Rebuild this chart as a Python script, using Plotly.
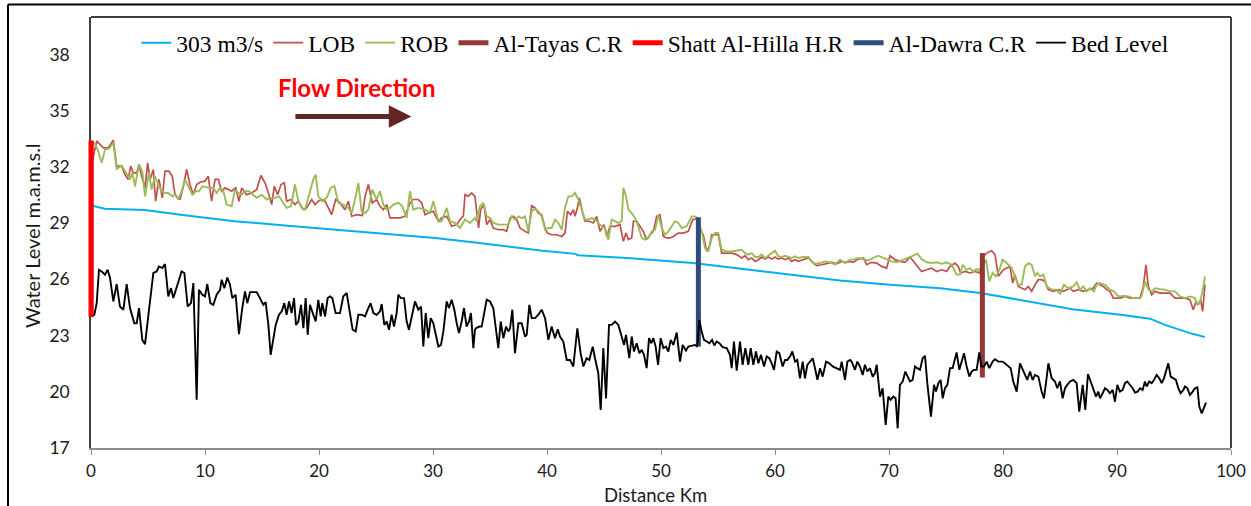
import plotly.graph_objects as go

# ---------------- data (distance km, level m.a.m.s.l) ----------------
FLOW_303 = [(0.00, 30.15), (0.20, 29.92), (1.20, 29.77), (4.70, 29.70), (8.20, 29.42), (12.60, 29.10),
            (17.00, 28.88), (21.40, 28.65), (25.80, 28.42), (30.20, 28.20), (33.70, 27.97), (35.30, 27.85),
            (39.60, 27.53), (42.50, 27.36), (42.70, 27.28), (47.00, 27.14), (52.80, 26.87), (57.20, 26.55),
            (61.60, 26.25), (65.70, 25.94), (70.10, 25.71), (74.50, 25.53), (78.00, 25.27), (81.80, 24.86),
            (86.10, 24.41), (90.50, 24.10), (92.90, 23.90), (94.20, 23.57), (96.40, 23.13), (97.70, 22.92)]

LOB = [(0.00, 32.00), (0.50, 33.38), (0.79, 33.20), (1.08, 33.02), (1.52, 33.02), (1.96, 33.43), (2.25, 32.04),
       (2.69, 32.04), (2.98, 31.59), (3.27, 31.33), (3.48, 32.04), (3.71, 31.68), (4.01, 31.68), (4.21, 32.13),
       (4.44, 31.50), (4.74, 30.88), (4.97, 32.22), (5.18, 31.33), (5.47, 31.86), (5.67, 30.17), (5.96, 31.33),
       (6.26, 30.35), (6.49, 31.77), (6.84, 31.77), (7.13, 31.50), (7.37, 30.52), (7.81, 30.26), (8.10, 30.97),
       (8.39, 31.86), (8.68, 31.06), (8.98, 30.52), (9.27, 31.06), (9.56, 31.18), (10.00, 31.24), (10.29, 31.50),
       (10.58, 30.17), (10.88, 31.33), (11.17, 31.33), (11.46, 30.70), (11.75, 30.88), (12.05, 30.79),
       (12.34, 30.70), (12.69, 30.88), (12.98, 30.17), (13.22, 30.88), (13.65, 30.52), (14.09, 30.61),
       (14.53, 30.79), (14.91, 31.54), (15.26, 31.15), (15.56, 30.61), (15.85, 29.99), (16.08, 30.97),
       (16.37, 30.52), (16.67, 31.06), (16.96, 31.15), (17.16, 30.17), (17.54, 30.26), (17.89, 29.99),
       (18.19, 30.17), (18.63, 29.72), (18.92, 29.81), (19.36, 30.26), (19.65, 29.99), (19.94, 30.17),
       (20.23, 30.26), (20.53, 30.17), (21.11, 29.45), (21.46, 30.26), (21.84, 30.08), (22.28, 29.72),
       (22.57, 30.17), (22.87, 29.37), (23.30, 29.45), (23.80, 29.40), (24.04, 30.43), (24.33, 31.06),
       (24.68, 30.08), (25.06, 30.26), (25.35, 29.90), (25.64, 29.72), (25.94, 29.99), (26.23, 29.28),
       (26.67, 29.28), (27.11, 29.28), (27.54, 29.37), (27.98, 30.08), (28.27, 30.26), (28.71, 30.26),
       (29.01, 30.08), (29.30, 29.45), (29.59, 29.54), (30.03, 29.63), (30.47, 29.10), (30.76, 29.28),
       (31.20, 29.37), (31.64, 28.83), (32.08, 28.92), (32.37, 29.19), (32.66, 29.37), (32.81, 30.52),
       (33.10, 30.43), (33.39, 30.61), (33.68, 30.43),
       (34.00, 28.74), (34.18, 29.72), (34.48, 29.99), (34.71, 28.92), (35.00, 29.19), (35.29, 28.74),
       (35.73, 28.65), (36.17, 28.65), (36.46, 28.56), (36.76, 29.27), (37.05, 29.36), (37.34, 29.19),
       (37.63, 28.74), (38.07, 28.56), (38.36, 28.47), (38.66, 29.93), (38.95, 29.81), (39.24, 29.54),
       (39.53, 29.45), (39.83, 28.74), (40.03, 28.47), (40.41, 28.38), (40.85, 28.38), (41.29, 28.29),
       (41.58, 28.47), (41.79, 29.63), (42.08, 29.45), (42.31, 29.72), (42.46, 29.36), (42.66, 29.81),
       (42.84, 30.34), (43.13, 29.54), (43.33, 29.10), (43.72, 29.10), (44.07, 29.01), (44.36, 29.36),
       (44.65, 28.56), (45.00, 28.92), (45.24, 28.29), (45.53, 28.83), (45.97, 28.83), (46.40, 28.92),
       (46.70, 28.03), (46.93, 28.47), (47.14, 28.12), (47.43, 28.21), (47.58, 29.10), (47.87, 29.10),
       (48.16, 28.83), (48.45, 28.56), (48.74, 28.12), (49.04, 28.38), (49.33, 28.56), (49.62, 29.36),
       (49.91, 29.45), (50.21, 28.29), (50.50, 28.21), (50.79, 28.21), (51.08, 28.29), (51.52, 28.47),
       (51.96, 28.47), (52.40, 28.56), (52.78, 29.19), (53.13, 29.22), (53.42, 28.65), (53.71, 28.38),
       (54.01, 27.49), (54.24, 27.76), (54.45, 28.38), (54.74, 28.38), (55.03, 28.38), (55.32, 27.40),
       (55.76, 27.40), (56.20, 27.40), (56.64, 27.32), (57.08, 27.14), (57.37, 27.26), (57.66, 27.05),
       (57.96, 27.14), (58.25, 26.96), (58.54, 27.05), (58.83, 27.19), (59.13, 27.08), (59.42, 27.19),
       (59.71, 27.08), (60.00, 27.19), (60.29, 27.08), (60.59, 27.14), (60.88, 27.05), (61.17, 27.14),
       (61.46, 26.96), (61.76, 27.05), (62.05, 26.96), (62.49, 27.05), (62.93, 27.14), (63.36, 26.87),
       (63.66, 26.73), (64.10, 26.78), (64.53, 26.83), (64.97, 26.90), (65.41, 26.83), (65.85, 26.96),
       (66.29, 26.90), (66.58, 26.96),
       (66.87, 26.91), (67.31, 27.08), (67.75, 27.14), (68.04, 26.78), (68.48, 26.91), (68.92, 26.87),
       (69.35, 26.69), (69.79, 26.60), (70.09, 27.26), (70.52, 27.05), (70.96, 26.96), (71.40, 26.91),
       (71.84, 27.19), (72.13, 26.96), (72.48, 26.69), (72.86, 26.42), (73.30, 26.51), (73.74, 26.60),
       (74.18, 26.42), (74.62, 26.51), (75.06, 26.42), (75.35, 26.69), (75.79, 26.87), (76.08, 26.69),
       (76.28, 26.34), (76.67, 26.42), (77.10, 26.34), (77.54, 26.42), (77.92, 26.34), (78.27, 27.23),
       (78.57, 27.40), (79.00, 27.53), (79.30, 27.32), (79.59, 26.16), (80.03, 26.51), (80.32, 26.60),
       (80.61, 26.69), (80.85, 25.80), (81.05, 26.25), (81.34, 25.62), (81.64, 25.53), (81.93, 25.45),
       (82.22, 25.62), (82.51, 25.36), (82.81, 25.71), (83.10, 25.98), (83.39, 25.98), (83.68, 25.89),
       (83.97, 25.45), (84.41, 25.36), (84.85, 25.45), (85.29, 25.36), (85.58, 25.45), (85.88, 25.53),
       (86.17, 25.36), (86.61, 25.45), (87.05, 25.36), (87.48, 25.45), (87.92, 25.53), (88.21, 25.80),
       (88.51, 25.71), (88.80, 25.62), (89.09, 25.45), (89.38, 25.36), (89.68, 25.00), (90.26, 25.00),
       (90.70, 25.09), (91.14, 25.00), (91.58, 25.00), (92.02, 25.00), (92.31, 25.62), (92.54, 26.78),
       (92.75, 25.62), (93.04, 25.18), (93.33, 25.36), (93.77, 25.27), (94.21, 25.27), (94.65, 25.27),
       (95.09, 25.00), (95.52, 25.00), (95.96, 25.00), (96.40, 24.91), (96.69, 24.38), (96.93, 24.82),
       (97.13, 24.64), (97.34, 24.91), (97.51, 24.29), (97.72, 25.71)]

ROB = [(0.00, 33.38), (0.35, 33.20), (0.58, 32.93), (0.94, 32.22), (1.23, 32.93), (1.58, 32.97), (1.96, 33.29),
       (2.25, 31.90), (2.69, 32.07), (2.98, 31.77), (3.42, 31.33), (3.63, 31.68), (3.86, 30.97), (4.21, 32.13),
       (4.50, 31.77), (4.74, 30.43), (5.09, 31.68), (5.32, 30.79), (5.61, 31.50), (5.91, 31.06), (6.20, 30.70),
       (6.49, 30.61), (6.78, 30.61), (7.13, 30.43), (7.37, 30.52), (7.66, 30.26), (8.01, 30.79), (8.25, 31.33),
       (8.54, 30.97), (8.89, 30.52), (9.18, 30.70), (9.47, 30.70), (9.77, 30.97), (10.06, 30.93), (10.44, 30.88),
       (10.73, 30.88), (11.02, 30.61), (11.32, 30.88), (11.61, 30.70), (11.90, 29.99), (12.34, 29.90),
       (12.63, 30.79), (12.92, 30.61), (13.22, 30.52), (13.51, 30.70), (13.86, 30.70), (14.24, 30.52),
       (14.53, 30.35), (14.97, 30.52), (15.41, 30.26), (15.70, 30.35), (16.14, 30.35), (16.49, 30.43),
       (16.87, 30.08), (17.16, 29.81), (17.54, 29.90), (17.89, 31.06), (18.19, 30.17), (18.48, 29.81),
       (18.77, 29.72), (19.12, 30.43), (19.50, 31.33), (19.71, 31.59), (19.94, 30.43), (20.29, 30.17),
       (20.67, 30.35), (21.02, 30.88), (21.35, 30.97), (21.70, 30.08), (22.13, 29.99), (22.57, 29.81),
       (22.87, 29.54), (23.22, 30.43), (23.45, 31.15), (23.74, 29.63), (24.04, 29.54), (24.33, 29.72),
       (24.68, 30.79), (25.06, 30.26), (25.35, 30.70), (25.64, 29.99), (25.94, 29.72), (26.23, 29.81),
       (26.52, 29.99), (26.96, 30.08), (27.31, 29.90), (27.69, 29.28), (27.98, 30.70), (28.27, 29.72),
       (28.71, 29.81), (29.30, 29.72), (29.74, 29.54), (30.03, 30.17), (30.47, 29.10), (30.76, 29.10),
       (31.20, 29.81), (31.49, 29.10), (31.93, 29.01), (32.37, 28.74), (32.81, 29.19), (33.25, 29.01),
       (33.68, 29.28),
       (33.83, 29.10), (34.12, 29.90), (34.42, 30.08), (34.71, 29.36), (35.00, 29.27), (35.29, 29.01),
       (35.73, 28.92), (36.17, 28.92), (36.61, 28.92), (36.90, 29.36), (37.19, 29.19), (37.49, 29.36),
       (37.78, 29.27), (38.07, 29.36), (38.36, 28.56), (38.66, 29.63), (38.95, 29.76), (39.24, 29.63),
       (39.53, 29.36), (39.83, 28.65), (40.12, 28.74), (40.41, 28.74), (40.70, 29.19), (41.00, 29.01),
       (41.29, 28.65), (41.58, 29.81), (41.87, 30.43), (42.17, 30.43), (42.46, 30.61), (42.75, 30.26),
       (43.04, 29.72), (43.33, 29.19), (43.63, 29.19), (43.92, 29.27), (44.21, 29.19), (44.50, 29.01),
       (44.80, 28.83), (45.09, 28.74), (45.38, 28.12), (45.67, 29.19), (45.97, 29.10), (46.26, 29.01),
       (46.55, 29.10), (46.70, 30.88), (46.93, 30.43), (47.14, 29.72), (47.43, 29.54), (47.72, 29.27),
       (48.01, 28.83), (48.31, 28.21), (48.60, 28.12), (48.89, 28.21), (49.18, 28.56), (49.48, 28.65),
       (49.77, 29.45), (50.06, 28.74), (50.35, 28.38), (50.65, 28.56), (50.94, 28.83), (51.23, 29.10),
       (51.52, 29.01), (51.82, 28.74), (52.25, 28.83), (52.69, 29.36), (52.98, 29.36), (53.19, 29.27),
       (53.57, 28.56), (53.86, 27.67), (54.15, 27.49), (54.45, 28.21), (54.74, 28.47), (55.03, 28.47),
       (55.32, 27.58), (55.76, 27.49), (56.20, 27.49), (56.64, 27.53), (57.08, 27.58), (57.37, 27.40),
       (57.66, 27.32), (57.96, 27.40), (58.25, 27.19), (58.54, 27.19), (58.83, 27.32), (59.13, 27.14),
       (59.42, 27.26), (59.71, 27.40), (60.00, 27.53), (60.29, 27.23), (60.59, 27.19), (60.88, 27.26),
       (61.17, 27.19), (61.46, 27.14), (61.76, 27.23), (62.05, 27.14), (62.49, 27.19), (62.93, 27.19),
       (63.22, 26.96), (63.51, 26.83), (63.95, 26.87), (64.39, 26.96), (64.83, 26.90), (65.26, 26.78),
       (65.70, 27.05), (66.14, 26.87), (66.58, 27.05),
       (66.87, 27.05), (67.31, 27.14), (67.75, 27.08), (68.19, 27.01), (68.62, 27.14), (69.06, 27.26),
       (69.35, 27.19), (69.79, 27.08), (70.23, 26.96), (70.67, 26.91), (71.11, 27.01), (71.55, 27.14),
       (71.99, 27.23), (72.48, 27.37), (72.86, 27.08), (73.30, 26.91), (73.74, 26.87), (74.18, 26.91),
       (74.62, 26.83), (75.06, 26.91), (75.50, 26.78), (75.93, 26.25), (76.23, 26.25), (76.46, 26.78),
       (76.81, 26.51), (77.10, 26.60), (77.40, 26.42), (77.69, 26.55), (77.98, 26.42), (78.51, 27.05),
       (78.80, 25.89), (79.09, 26.34), (79.38, 26.16), (79.68, 26.51), (79.97, 27.05), (80.32, 26.87),
       (80.76, 26.60), (81.05, 26.16), (81.34, 25.71), (81.64, 25.71), (81.93, 26.69), (82.22, 26.87),
       (82.51, 26.78), (82.81, 26.16), (83.01, 26.34), (83.24, 26.16), (83.54, 26.25), (83.83, 25.62),
       (84.27, 25.45), (84.71, 25.45), (85.00, 25.23), (85.35, 25.71), (85.73, 25.53), (86.17, 25.62),
       (86.46, 25.84), (86.75, 25.45), (87.05, 25.62), (87.34, 25.36), (87.63, 25.53), (87.98, 25.36),
       (88.21, 25.71), (88.51, 25.80), (88.95, 25.71), (89.38, 25.45), (89.74, 25.36), (90.12, 25.09),
       (90.56, 25.12), (91.00, 25.09), (91.43, 25.00), (91.87, 25.00), (92.16, 25.09), (92.46, 25.89),
       (92.75, 25.45), (93.04, 25.36), (93.33, 25.53), (93.77, 25.48), (94.21, 25.45), (94.65, 25.36),
       (95.09, 25.36), (95.52, 25.09), (95.96, 25.00), (96.40, 25.09), (96.84, 25.00), (97.05, 24.64),
       (97.28, 24.82), (97.51, 25.36), (97.72, 26.16)]

BED = [(0.00, 26.87), (0.06, 24.02), (0.29, 24.11), (0.50, 24.73), (0.70, 26.51), (0.94, 26.42), (1.23, 26.25),
       (1.46, 26.51), (1.67, 26.07), (1.96, 24.82), (2.25, 25.75), (2.54, 24.55), (2.84, 24.38), (3.13, 25.75),
       (3.42, 24.47), (3.80, 23.66), (4.01, 23.66), (4.21, 24.47), (4.50, 22.77), (4.74, 22.54), (5.09, 24.38),
       (5.47, 26.34), (5.76, 26.42), (5.96, 26.69), (6.26, 26.60), (6.49, 26.82), (6.78, 25.09), (7.02, 25.53),
       (7.22, 25.00), (7.51, 25.53), (7.95, 26.42), (8.19, 26.34), (8.48, 24.55), (8.77, 24.73), (8.98, 25.80),
       (9.27, 19.57), (9.47, 25.44), (9.77, 25.18), (10.00, 25.09), (10.20, 25.75), (10.47, 24.73),
       (10.73, 24.64), (11.02, 25.18), (11.32, 25.44), (11.46, 25.98), (11.70, 25.53), (11.96, 26.10),
       (12.19, 25.71), (12.40, 25.00), (12.69, 25.18), (12.98, 23.07), (13.27, 24.47), (13.51, 25.36),
       (13.71, 24.73), (13.95, 25.32), (14.24, 25.32), (14.53, 25.32), (14.82, 25.00), (15.12, 24.64),
       (15.32, 24.79), (15.56, 23.57), (15.76, 21.97), (15.99, 22.86), (16.20, 23.57), (16.49, 24.11),
       (16.73, 24.29), (16.96, 24.73), (17.16, 24.11), (17.37, 24.82), (17.60, 24.20), (17.81, 25.00),
       (17.98, 23.57), (18.19, 23.75), (18.42, 24.64), (18.63, 23.40), (18.83, 25.00), (19.01, 23.04),
       (19.21, 24.64), (19.50, 24.11), (19.71, 23.75), (19.94, 24.91), (20.15, 24.02), (20.29, 24.73),
       (20.53, 24.02), (20.76, 25.00), (20.96, 25.09), (21.17, 25.00), (21.46, 24.20), (21.84, 24.20),
       (22.13, 25.09), (22.43, 25.27), (22.72, 24.29), (22.95, 23.31), (23.22, 23.22), (23.45, 24.11),
       (23.74, 24.11), (24.04, 24.02), (24.27, 24.38), (24.53, 24.73), (24.77, 24.20), (25.06, 24.11),
       (25.35, 24.29), (25.50, 24.68), (25.73, 23.57), (25.94, 23.75), (26.14, 23.31), (26.37, 24.11),
       (26.58, 23.48), (26.81, 24.20), (26.96, 25.18), (27.19, 25.00), (27.46, 25.00), (27.69, 23.75),
       (27.89, 23.31), (28.13, 23.93), (28.42, 24.82), (28.71, 24.38), (28.95, 24.55), (29.15, 22.42),
       (29.36, 24.20), (29.59, 22.86), (29.80, 23.93), (30.03, 23.66), (30.23, 23.04), (30.47, 22.42),
       (30.70, 22.50), (30.91, 23.22), (31.20, 24.82), (31.40, 24.47), (31.64, 24.91), (31.87, 24.38),
       (32.08, 23.66), (32.28, 23.13), (32.51, 23.75), (32.72, 24.47), (32.95, 23.48), (33.16, 23.75),
       (33.33, 24.20), (33.54, 22.33), (33.68, 23.31),
       (33.77, 23.39), (34.07, 23.48), (34.27, 23.48), (34.71, 24.91), (35.00, 24.82), (35.29, 24.46),
       (35.73, 22.33), (35.94, 23.75), (36.17, 22.86), (36.41, 23.48), (36.61, 23.22), (36.76, 23.39),
       (36.96, 24.38), (37.19, 22.06), (37.49, 23.66), (37.78, 23.66), (38.07, 22.95), (38.22, 23.04),
       (38.45, 24.64), (38.66, 23.93), (38.95, 23.93), (39.24, 24.11), (39.53, 24.38), (39.83, 23.93),
       (40.12, 22.77), (40.41, 23.48), (40.70, 22.86), (40.94, 23.34), (41.14, 22.95), (41.43, 22.68),
       (41.73, 21.70), (42.02, 21.70), (42.31, 21.35), (42.66, 23.39), (42.95, 22.06), (43.19, 21.35),
       (43.48, 21.79), (43.71, 21.70), (44.01, 22.41), (44.21, 21.79), (44.50, 20.99), (44.71, 19.03),
       (44.94, 22.33), (45.18, 19.65), (45.44, 23.57), (45.67, 23.57), (45.97, 23.75), (46.26, 23.57),
       (46.55, 22.86), (46.76, 22.50), (46.93, 23.04), (47.22, 21.79), (47.43, 22.95), (47.63, 22.15),
       (47.87, 22.59), (48.10, 22.06), (48.31, 22.24), (48.51, 21.97), (48.74, 21.26), (48.95, 22.86),
       (49.15, 22.59), (49.33, 22.86), (49.53, 22.41), (49.74, 21.44), (49.97, 22.86), (50.21, 22.33),
       (50.44, 22.41), (50.64, 22.15), (50.85, 22.77), (51.08, 22.50), (51.38, 23.16), (51.67, 21.61),
       (51.90, 22.50), (52.19, 22.20), (52.40, 22.41), (52.69, 22.45), (52.98, 22.50), (53.19, 22.41),
       (53.36, 23.84), (53.57, 23.22), (53.77, 22.77), (54.01, 22.68), (54.24, 22.59), (54.48, 22.77),
       (54.68, 22.47), (54.88, 22.68), (55.12, 22.59), (55.41, 22.38), (55.76, 22.33), (56.05, 21.97),
       (56.20, 21.26), (56.40, 22.68), (56.64, 21.13), (56.93, 22.68), (57.16, 21.44), (57.40, 22.33),
       (57.66, 21.44), (57.87, 22.33), (58.10, 21.44), (58.33, 22.15), (58.54, 21.52), (58.77, 21.97),
       (59.04, 21.35), (59.27, 21.88), (59.50, 21.79), (59.71, 21.52), (59.91, 21.17), (60.15, 22.15),
       (60.38, 22.06), (60.67, 21.35), (60.88, 21.70), (61.08, 21.70), (61.32, 21.88), (61.52, 22.15),
       (61.76, 21.61), (61.96, 21.70), (62.19, 20.72), (62.43, 21.61), (62.63, 20.72), (62.84, 21.44),
       (63.07, 21.61), (63.31, 21.79), (63.51, 21.26), (63.72, 20.64), (63.95, 21.26), (64.18, 20.81),
       (64.48, 21.61), (64.77, 21.52), (65.06, 21.35), (65.41, 21.26), (65.70, 21.17), (65.85, 21.61),
       (66.14, 20.64), (66.35, 21.61), (66.58, 21.70),
       (66.72, 21.61), (67.02, 21.17), (67.22, 21.61), (67.45, 21.35), (67.69, 20.90), (67.89, 21.44),
       (68.10, 21.08), (68.33, 21.26), (68.57, 20.81), (68.77, 20.99), (68.92, 21.44), (69.21, 19.74),
       (69.44, 20.19), (69.71, 18.23), (69.94, 19.74), (70.14, 19.57), (70.38, 19.74), (70.58, 19.65),
       (70.76, 18.05), (70.96, 20.37), (71.20, 20.55), (71.43, 21.08), (71.64, 20.81), (71.84, 20.55),
       (72.07, 20.63), (72.28, 21.35), (72.48, 21.26), (72.72, 21.17), (72.95, 21.79), (73.16, 21.92),
       (73.36, 20.46), (73.68, 18.67), (73.95, 20.37), (74.12, 20.01), (74.33, 20.46), (74.53, 20.63),
       (74.71, 19.65), (74.91, 20.19), (75.12, 20.37), (75.35, 21.26), (75.58, 21.26), (75.70, 21.61),
       (75.93, 22.10), (76.17, 21.17), (76.37, 21.61), (76.58, 22.06), (76.81, 21.35), (77.05, 20.81),
       (77.25, 21.08), (77.45, 21.17), (77.69, 21.17), (77.92, 22.10), (78.10, 21.35), (78.33, 21.35),
       (78.57, 21.61), (78.80, 21.26), (79.09, 21.61), (79.30, 21.74), (79.59, 21.61), (79.97, 21.61),
       (80.32, 21.44), (80.67, 21.26), (80.90, 20.55), (81.20, 20.01), (81.49, 21.52), (81.72, 21.17),
       (81.93, 20.90), (82.13, 20.63), (82.37, 21.08), (82.60, 20.63), (82.81, 20.90), (83.10, 20.81),
       (83.39, 20.01), (83.59, 19.65), (83.77, 20.46), (83.98, 21.52), (84.27, 20.72), (84.56, 20.55),
       (84.76, 20.19), (85.00, 20.55), (85.23, 19.65), (85.44, 20.19), (85.64, 20.37), (85.88, 20.55),
       (86.17, 20.63), (86.46, 20.46), (86.69, 18.94), (86.99, 20.37), (87.22, 19.03), (87.45, 20.95),
       (87.69, 20.55), (87.92, 20.19), (88.16, 19.74), (88.36, 20.01), (88.51, 19.65), (88.74, 19.92),
       (88.95, 20.19), (89.15, 20.10), (89.38, 19.92), (89.62, 20.10), (89.82, 19.47), (90.03, 20.37),
       (90.26, 20.01), (90.50, 20.10), (90.70, 20.46), (90.90, 20.55), (91.14, 20.37), (91.37, 20.19),
       (91.58, 19.96), (91.81, 20.01), (92.02, 20.19), (92.25, 20.10), (92.45, 20.55), (92.60, 20.28),
       (92.83, 20.55), (93.04, 20.46), (93.24, 20.63), (93.48, 20.90), (93.71, 20.72), (93.92, 20.46),
       (94.12, 20.72), (94.30, 21.08), (94.50, 21.52), (94.71, 20.81), (94.94, 20.72), (95.17, 20.63),
       (95.38, 20.19), (95.58, 19.92), (95.82, 20.10), (95.96, 20.28), (96.17, 20.19), (96.40, 19.83),
       (96.64, 20.01), (96.84, 20.19), (97.05, 20.24), (97.22, 19.21), (97.43, 18.85), (97.63, 19.21),
       (97.81, 19.42)]

# cross-structures: (distance km, bottom level, top level)
SHATT_HR = (0.00, 24.00, 33.40)
DAWRA_CR = (53.28, 22.41, 29.31)
TAYAS_CR = (78.19, 20.76, 27.40)

X_TICKS = list(range(0, 101, 10))
Y_TICKS = list(range(17, 39, 3))

X_TITLE = "Distance Km"
Y_TITLE = "Water Level m.a.m.s.l"
FLOW_TEXT = "Flow Direction"
FLOW_TEXT_XY = (23.25, 36.25)
ARROW_FROM = (17.8, 34.69)
ARROW_TO = (28.1, 34.69)

# ---------------- figure ----------------
def xy(pairs):
    return [p[0] for p in pairs], [p[1] for p in pairs]

fig = go.Figure()
x, y = xy(FLOW_303)
fig.add_trace(go.Scatter(x=x, y=y, mode="lines", name="303 m3/s", line=dict(color="#00B0F0", width=2)))
x, y = xy(LOB)
fig.add_trace(go.Scatter(x=x, y=y, mode="lines", name="LOB", line=dict(color="#C0504D", width=1.7)))
x, y = xy(ROB)
fig.add_trace(go.Scatter(x=x, y=y, mode="lines", name="ROB", line=dict(color="#9BBB59", width=1.9)))
fig.add_trace(go.Scatter(x=[TAYAS_CR[0]] * 2, y=[TAYAS_CR[1], TAYAS_CR[2]], mode="lines",
                         name="Al-Tayas C.R", line=dict(color="#953735", width=5)))
fig.add_trace(go.Scatter(x=[SHATT_HR[0]] * 2, y=[SHATT_HR[1], SHATT_HR[2]], mode="lines",
                         name="Shatt Al-Hilla H.R", line=dict(color="#FF0000", width=5)))
fig.add_trace(go.Scatter(x=[DAWRA_CR[0]] * 2, y=[DAWRA_CR[1], DAWRA_CR[2]], mode="lines",
                         name="Al-Dawra C.R", line=dict(color="#2E4B7A", width=5)))
x, y = xy(BED)
fig.add_trace(go.Scatter(x=x, y=y, mode="lines", name="Bed Level", line=dict(color="#000000", width=1.9)))

tick_font = dict(family="Lato, sans-serif", size=17.5, color="#1a1a1a")
title_font = dict(family="Lato, sans-serif", size=18.5, color="#1a1a1a")
fig.update_layout(
    width=1251, height=506,
    margin=dict(l=91, r=20, t=17, b=58),
    paper_bgcolor="white", plot_bgcolor="white",
    showlegend=True,
    legend=dict(orientation="h", x=0.495, xanchor="center", y=0.94, yanchor="middle",
                font=dict(family="Liberation Serif, serif", size=23.5, color="#000"),
                bgcolor="rgba(0,0,0,0)", itemwidth=30),
    xaxis=dict(range=[0, 100], tickvals=X_TICKS, ticks="outside", ticklen=5, tickcolor="#8c8c8c",
               showline=True, linecolor="#8c8c8c", linewidth=1.5, showgrid=False, zeroline=False,
               tickfont=dict(family="Lato, sans-serif", size=17, color="#1a1a1a"),
               ticklabelstandoff=2, automargin=False),
    yaxis=dict(range=[17, 40], tickvals=Y_TICKS, ticks="", showline=True, linecolor="#404040", linewidth=1.5,
               showgrid=False, zeroline=False, tickfont=tick_font, ticklabelstandoff=16, automargin=False),
    annotations=[
        # axis titles
        dict(x=0.495, y=-0.109, xref="paper", yref="paper", text=X_TITLE, showarrow=False,
             xanchor="center", yanchor="middle", font=title_font),
        dict(x=-0.0518, y=0.492, xref="paper", yref="paper", text=Y_TITLE, showarrow=False, textangle=-90,
             xanchor="center", yanchor="middle", font=dict(family="Lato, sans-serif", size=20, color="#1a1a1a")),
        # flow direction label and arrow
        dict(x=FLOW_TEXT_XY[0], y=FLOW_TEXT_XY[1], xref="x", yref="y", text="<b>" + FLOW_TEXT + "</b>",
             showarrow=False, font=dict(family="Lato, sans-serif", size=24, color="#FF0000")),
        dict(x=ARROW_TO[0], y=ARROW_TO[1], ax=ARROW_FROM[0], ay=ARROW_FROM[1], xref="x", yref="y",
             axref="x", ayref="y", text="", showarrow=True, arrowhead=2, arrowsize=0.9, arrowwidth=5,
             arrowcolor="#632523"),
    ],
    shapes=[
        # Shatt Al-Hilla H.R drawn centred on the y axis (not clipped horizontally)
        dict(type="line", xref="paper", yref="y", x0=0, x1=0, y0=SHATT_HR[1], y1=SHATT_HR[2],
             line=dict(color="#FF0000", width=5)),
        # plot-area top and right border
        dict(type="line", xref="paper", yref="paper", x0=0, x1=1, y0=1, y1=1, line=dict(color="#000", width=1.5)),
        dict(type="line", xref="paper", yref="paper", x0=1, x1=1, y0=0, y1=1, line=dict(color="#000", width=1.5)),
        # outer chart frame
        dict(type="line", xref="paper", yref="paper", x0=-0.0728, x1=1.03, y0=1.029, y1=1.029,
             line=dict(color="#000", width=2)),
        dict(type="line", xref="paper", yref="paper", x0=-0.0728, x1=-0.0728, y0=-0.15, y1=1.029,
             line=dict(color="#000", width=2)),
    ],
)

fig.write_html("out.html")
